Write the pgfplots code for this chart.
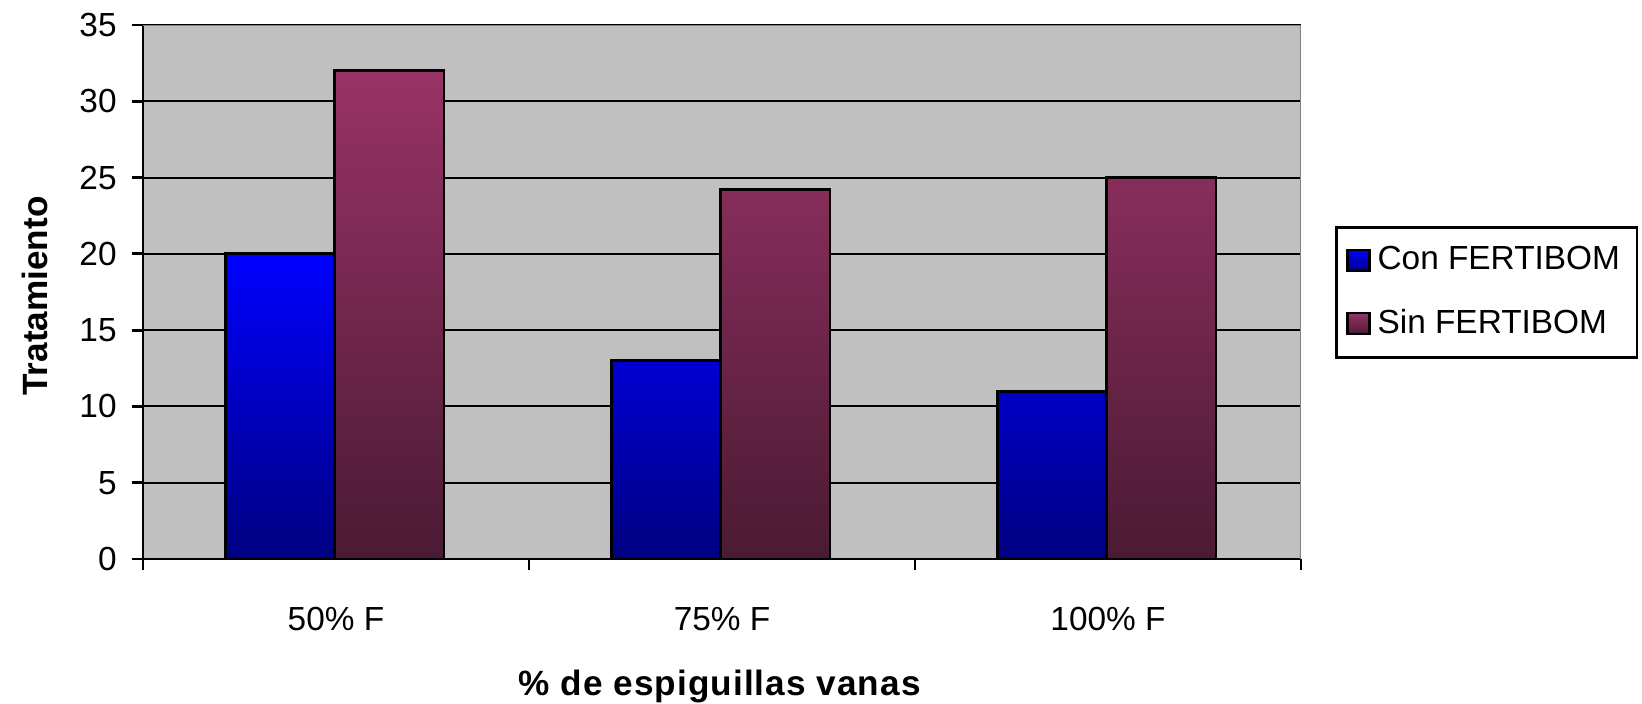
\documentclass[border=0pt]{standalone}
\usepackage{fontspec}
\setmainfont{Liberation Sans}
\usepackage{pgfplots}
\pgfplotsset{compat=1.18}
\definecolor{plotgray}{RGB}{192,192,192}
\definecolor{edgegray}{RGB}{128,128,128}
\definecolor{contop}{RGB}{0,0,255}
\definecolor{conbot}{RGB}{0,0,128}
\definecolor{sintop}{RGB}{153,51,102}
\definecolor{sinbot}{RGB}{74,26,51}
\newcommand{\tfont}{\fontsize{9.5}{11}\selectfont}
\newcommand{\lfont}{\fontsize{10}{12}\selectfont\bfseries}
\begin{document}
\begin{tikzpicture}
\path[use as bounding box] (0,0) rectangle (16.42cm,7.03cm);
\begin{axis}[
    at={(1.43cm,1.44cm)}, anchor=south west,
    scale only axis,
    width=11.58cm, height=5.34cm,
    xmin=-0.5, xmax=2.5,
    ymin=0, ymax=35,
    ytick={0,5,...,35},
    xtick={-0.5,0.5,1.5,2.5},
    xticklabels={},
    extra x ticks={0,1,2},
    extra x tick labels={50\% F,75\% F,100\% F},
    extra x tick style={tick style={draw=none}},
    axis lines*=left,
    axis line style={black, line width=0.8pt},
    tick align=outside,
    major tick length=0.11cm,
    tick style={black, line width=0.8pt},
    ymajorgrids,
    grid style={black, line width=0.6pt},
    axis background/.style={fill=plotgray},
    /pgf/number format/assume math mode=true,
    tick label style={font=\tfont},
    yticklabel style={xshift=-0.03cm},
    xticklabel style={yshift=-0.25cm},
    ybar,
    bar width=0.283,
    ylabel={Tratamiento},
    xlabel={\addfontfeature{LetterSpace=3}\% de espiguillas vanas},
    every axis y label/.style={at={(axis description cs:-0.0933,0.4925)}, rotate=90, anchor=center, font=\lfont},
    every axis x label/.style={at={(axis description cs:0.498,-0.2378)}, anchor=center, font=\lfont},
    legend style={at={(1.0294,0.6236)}, anchor=north west, draw=black, line width=0.8pt,
        font=\fontsize{9.5}{11}\selectfont, fill=white,
        inner xsep=0.1cm, inner ysep=0.12cm, row sep=0.2cm,
        /tikz/every even column/.append style={column sep=0.06cm}},
    legend cell align=left,
    legend image code/.code={\draw[#1, draw=black, line width=0.6pt] (0cm,-0.105cm) rectangle (0.22cm,0.105cm);},
]
\addplot[draw=black, line width=0.8pt, top color=contop, bottom color=conbot, bar shift=-0.1445]
    coordinates {(0,20) (1,13) (2,11)};
\addplot[draw=black, line width=0.8pt, top color=sintop, bottom color=sinbot, bar shift=0.1385]
    coordinates {(0,32) (1,24.2) (2,25)};
\legend{Con FERTIBOM, Sin FERTIBOM}
\draw[edgegray, line width=0.8pt] (rel axis cs:0,1) -- (rel axis cs:1,1) -- (rel axis cs:1,0);
\end{axis}
\end{tikzpicture}
\end{document}
